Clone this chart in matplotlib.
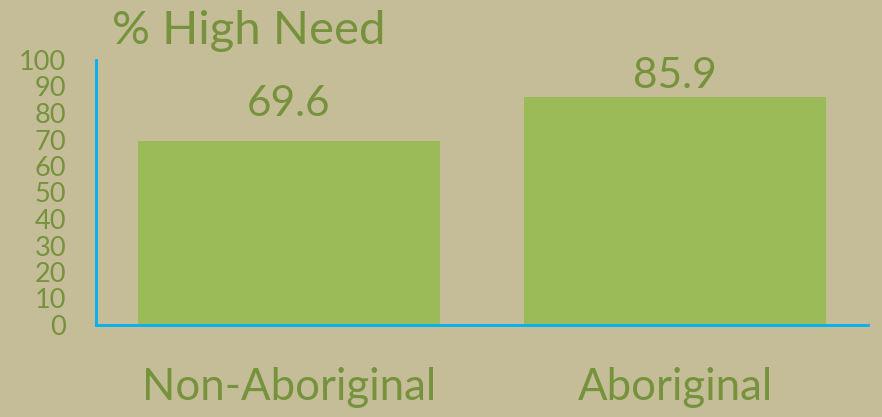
import matplotlib.pyplot as plt

categories = ["Non-Aboriginal", "Aboriginal"]
values = [69.6, 85.9]
yticks = list(range(0, 101, 10))

bg = "#C4BD97"
bar_color = "#9BBB59"
text_color = "#76923C"
axis_color = "#00B0F0"

# label gap above each bar top, in pixels (as in the original slide)
label_gaps = [25, 9]

plt.rcParams['font.family'] = ['Lato', 'DejaVu Sans']

fig = plt.figure(figsize=(8.82, 4.17), dpi=100, facecolor=bg)
ax = fig.add_axes([96 / 882, 1 - 325 / 417, 772 / 882, 265 / 417])
ax.set_facecolor(bg)

x = range(len(categories))
bars = ax.bar(x, values, width=0.78, color=bar_color)
for xi, v, gap in zip(x, values, label_gaps):
    ax.annotate(f"{v}", (xi, v), xytext=(0, gap), textcoords='offset pixels',
                ha='center', va='baseline', fontsize=30.5, color=text_color)

ax.set_xlim(-0.5, 1.5)
ax.set_ylim(0, 100)
ax.set_yticks(yticks)
ax.set_yticklabels([str(t) for t in yticks], fontsize=19.5, color=text_color)
ax.set_xticks(list(x))
ax.set_xticklabels(categories, fontsize=31.5, color=text_color)
ax.tick_params(axis='y', length=0, pad=21.5)
ax.tick_params(axis='x', length=0, pad=30)

for s in ['top', 'right']:
    ax.spines[s].set_visible(False)
for s in ['left', 'bottom']:
    ax.spines[s].set_color(axis_color)
    ax.spines[s].set_linewidth(2)

fig.text(112 / 882, 1 - 44 / 417, "% High Need", fontsize=34, color=text_color,
         ha='left', va='baseline')

fig.savefig("out.png", dpi=100, facecolor=bg)
